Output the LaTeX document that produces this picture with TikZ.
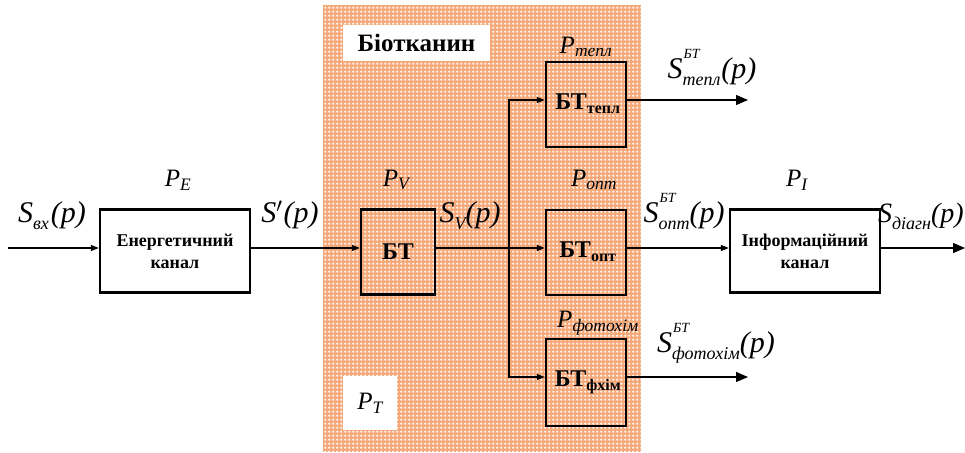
\documentclass[tikz,border=0pt]{standalone}
\usepackage{fontspec}
\setmainfont{Liberation Serif}
\usetikzlibrary{arrows.meta,patterns}
\definecolor{tissue}{RGB}{245,168,120}
\pgfdeclarepatternformonly{tissuepluses}{\pgfpointorigin}{\pgfqpoint{4pt}{4pt}}{\pgfqpoint{4pt}{4pt}}{%
  \pgfpathrectangle{\pgfqpoint{1pt}{0pt}}{\pgfqpoint{1pt}{3pt}}%
  \pgfpathrectangle{\pgfqpoint{0pt}{1pt}}{\pgfqpoint{3pt}{1pt}}%
  \pgfusepath{fill}}
\newcommand{\sbs}[2]{\raisebox{-7pt}{\begin{tabular}[b]{@{}l@{}}\fontsize{14}{11}\selectfont\itshape\kern1pt #1\\[-3pt]\fontsize{18}{14}\selectfont\itshape #2\end{tabular}}}
\newcommand{\lsub}[1]{\raisebox{-7pt}{\fontsize{18}{18}\selectfont\itshape #1}}
\begin{document}
\begin{tikzpicture}[x=1pt,y=-1pt,
  blk/.style={draw=black,line width=2.4pt,fill=none,inner sep=0pt,align=center},
  conn/.style={line width=1.1pt,-{Triangle[length=8pt,width=6pt]}},
  outarr/.style={line width=1.1pt,-{Triangle[length=12pt,width=10pt]}},
  plain/.style={line width=1.1pt},
  lbl/.style={inner sep=0pt,font=\fontsize{30}{30}\selectfont\itshape},
  plbl/.style={inner sep=0pt,font=\fontsize{25}{25}\selectfont\itshape},
  btxt/.style={font=\fontsize{18}{22}\selectfont\bfseries},
  bigb/.style={inner sep=0pt,font=\fontsize{24}{24}\selectfont\bfseries},
  whitebox/.style={fill=white,draw=none,inner sep=0pt}]
\useasboundingbox (0,0) rectangle (965,452);
% tissue region
\fill[tissue] (323,5) rectangle (641,452);
\fill[pattern=tissuepluses,pattern color=white] (323,5) rectangle (641,452);
\node[whitebox,minimum width=147pt,minimum height=36pt] (biobox) at (416.5,43) {};
\node[inner sep=0pt,font=\fontsize{25}{25}\selectfont\bfseries] (bio) at (biobox.center) {Біотканин};
\node[whitebox,minimum width=54pt,minimum height=54pt] (ptbox) at (370,403) {};
\node[plbl] (PT) at (ptbox.center) {P\textsubscript{T}};
% blocks
\node[blk,minimum width=150pt,minimum height=83pt,btxt] (energy) at (175,251) {Енергетичний\\канал};
\node[blk,minimum width=74pt,minimum height=85pt,bigb] (bt) at (398,252) {БТ};
\node[blk,minimum width=80pt,minimum height=85pt] (btt) at (586,104.5) {};
\node[blk,minimum width=80pt,minimum height=85pt] (bto) at (586,252.5) {};
\node[blk,minimum width=80pt,minimum height=87pt] (btf) at (586,382.5) {};
\node[blk,minimum width=150pt,minimum height=83pt,btxt] (info) at (805,251) {Інформаційний\\канал};
\node[bigb] (btttxt) at (588,104) {БТ\textsubscript{\fontsize{16}{16}\selectfont тепл}};
\node[bigb] (btotxt) at (588,252) {БТ\textsubscript{\fontsize{16}{16}\selectfont опт}};
\node[bigb] (btftxt) at (588,382) {БТ\textsubscript{\fontsize{16}{16}\selectfont фхім}};
% coordinates
\coordinate (in) at (8,248);
\coordinate (split) at (509,248);
\coordinate (outt) at (748,100);
\coordinate (outf) at (748,377);
\coordinate (outi) at (965,248);
% connectors
\draw[conn] (in) -- (energy.west |- in);
\draw[conn] (energy.east |- in) -- (bt.west |- in);
\draw[plain] (bt.east |- in) -- (split);
\draw[conn] (split) -- (bto.west |- in);
\draw[conn] (split) |- (btt.west |- outt);
\draw[conn] (split) |- (btf.west |- outf);
\draw[outarr] (btt.east |- outt) -- (outt);
\draw[outarr] (btf.east |- outf) -- (outf);
\draw[conn] (bto.east |- in) -- (info.west |- in);
\draw[outarr] (info.east |- in) -- (outi);
% labels
\node[lbl,anchor=base] (sin) at (52,222) {S\lsub{вх}\kern2pt(p)};
\node[plbl] (pe) at (178,180) {P\textsubscript{E}};
\node[lbl,anchor=base] (sprime) at (290,222) {S$'$\kern1pt(p)};
\node[lbl,anchor=base] (sv) at (470,222) {S\lsub{V}(p)};
\node[plbl] (pv) at (396,180) {P\textsubscript{V}};
\node[plbl] (popt) at (594,180) {P\textsubscript{опт}};
\node[plbl] (ptepl) at (586,47) {P\textsubscript{тепл}};
\node[plbl] (pfoto) at (598,323) {P\textsubscript{фотохім}};
\node[plbl] (pi) at (797,180) {P\textsubscript{I}};
\node[lbl,anchor=base] (stepl) at (712,78) {S\sbs{БТ}{тепл}\kern1pt(p)};
\node[lbl,anchor=base] (sopt) at (684,222) {S\sbs{БТ}{опт}(p)};
\node[lbl,anchor=base] (sfoto) at (716,352) {S\sbs{БТ}{фотохім}(p)};
\node[lbl,anchor=base east,font=\fontsize{28}{28}\selectfont\itshape] (sdiag) at (964,222) {S\lsub{діагн}(p)};
\end{tikzpicture}
\end{document}
